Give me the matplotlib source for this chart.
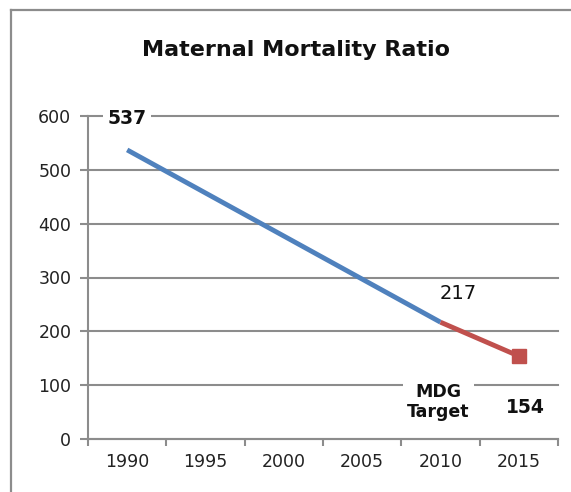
import matplotlib.pyplot as plt
from matplotlib.lines import Line2D

# data
years = ["1990", "1995", "2000", "2005", "2010", "2015"]
actual_years = ["1990", "2010"]
actual_values = [537, 217]
target_years = ["2010", "2015"]
target_values = [217, 154]

W, H = 571, 492
fig = plt.figure(figsize=(W / 100, H / 100), dpi=100)
plt.rcParams['font.family'] = ['DejaVu Sans']

# outer frame (top and left edges only visible)
grey = "#8c8c8c"
fig.add_artist(Line2D([11 / W, 1], [1 - 10 / H, 1 - 10 / H], color=grey, lw=1.6))
fig.add_artist(Line2D([11 / W, 11 / W], [0, 1 - 10 / H], color=grey, lw=1.6))

ax = fig.add_axes([88 / W, 1 - 439 / H, (558 - 88) / W, (439 - 116) / H])

idx = {y: i for i, y in enumerate(years)}
ax.plot([idx[y] for y in actual_years], actual_values, color="#4f81bd", lw=3.5,
        solid_capstyle="butt", zorder=3)
ax.plot([idx[y] for y in target_years], target_values, color="#c0504d", lw=3.5,
        solid_capstyle="butt", zorder=3)
ax.plot([idx[target_years[-1]]], [target_values[-1]], marker="s", ms=10,
        color="#c0504d", zorder=4)

ax.set_xlim(-0.5, len(years) - 0.5)
ax.set_ylim(0, 600)
ax.set_yticks(range(0, 601, 100))
ax.set_xticks(range(len(years)))
ax.set_xticklabels(years)
ax.set_xticks([i - 0.5 for i in range(len(years) + 1)], minor=True)
ax.tick_params(axis="x", which="major", length=0, labelsize=12.5, pad=10,
               labelcolor="#222222")
ax.tick_params(axis="x", which="minor", length=5, width=1.5, color=grey)
ax.tick_params(axis="y", length=6, width=1.5, color=grey, labelsize=12.5,
               pad=6, labelcolor="#222222")

ax.grid(axis="y", color=grey, lw=1.5)
for gl in ax.get_ygridlines():
    gl.set_clip_on(False)
ax.set_axisbelow(True)
for s in ["top", "right"]:
    ax.spines[s].set_visible(False)
for s in ["left", "bottom"]:
    ax.spines[s].set_color(grey)
    ax.spines[s].set_linewidth(1.5)

box = dict(facecolor="white", edgecolor="none", pad=3)
ax.text(0.0, 596, "537", ha="center", va="center", fontsize=13.5,
        fontweight="bold", color="#111111", bbox=box, zorder=5)
ax.text(4.22, 271, "217", ha="center", va="center", fontsize=14,
        color="#111111", bbox=box, zorder=5)
ax.text(3.97, 69, "MDG\nTarget", ha="center", va="center", fontsize=12.5,
        fontweight="bold", color="#111111", linespacing=1.15, bbox=box, zorder=5)
ax.text(5.08, 58, "154", ha="center", va="center", fontsize=13.5,
        fontweight="bold", color="#111111", zorder=5)

fig.text(296 / W, 1 - 50 / H, "Maternal Mortality Ratio", ha="center",
         va="center", fontsize=16, fontweight="bold", color="#111111")

fig.savefig("out.png", dpi=100)
